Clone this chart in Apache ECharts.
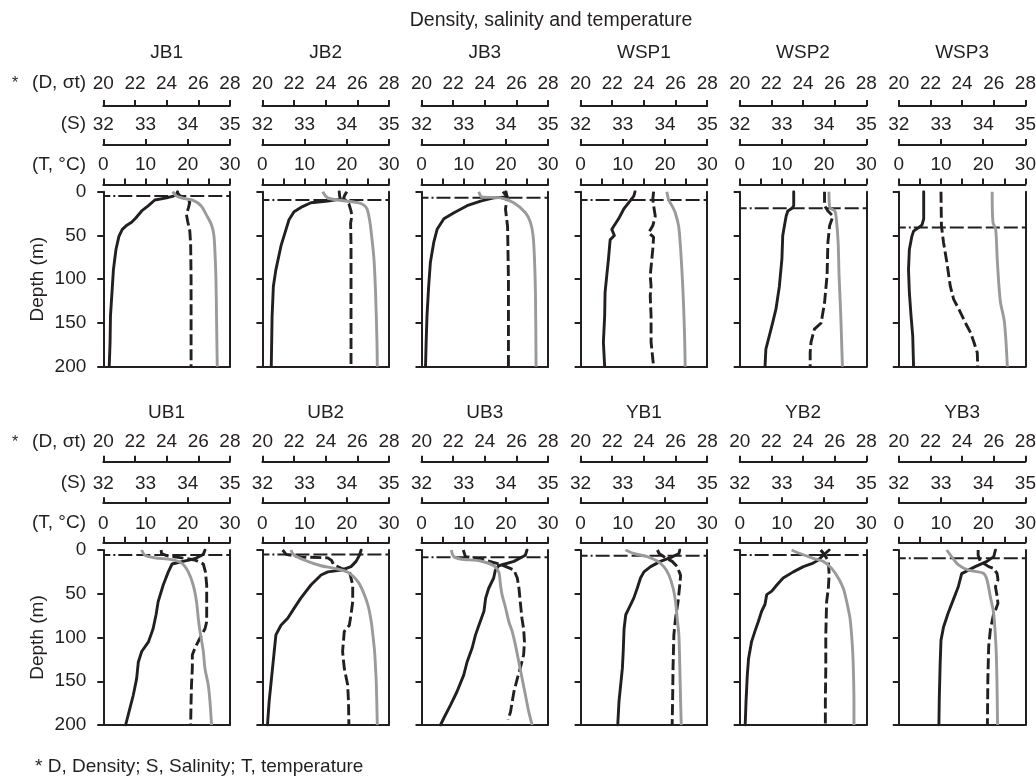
<!DOCTYPE html>
<html><head><meta charset="utf-8">
<script src="https://cdn.jsdelivr.net/npm/echarts@6.0.0/dist/echarts.min.js"></script>
<style>html,body{margin:0;padding:0;background:#fff}#c{width:1036px;height:776px}</style>
</head><body><div id="c"></div>
<script>
// ---- data ([value, depth m]) ----
const stations = ['JB1','JB2','JB3','WSP1','WSP2','WSP3','UB1','UB2','UB3','YB1','YB2','YB3'];
const mldDepth = [5, 9.5, 6.9, 9.5, 19, 41, 5.7, 5, 8.4, 6.5, 5.7, 9.5];
const dTicks = [20, 28, 2];
const sTicks = [32, 35, 1];
const tTicks = [0, 30, 5];
const depthTicks = [0, 200, 50];

const JB1_T = [[17.6,0],[17.4,3],[16.6,5],[15.0,7],[12.2,9.5],[10.7,16],[9.1,22],[7.7,30],[6.7,35],[5.4,39],[4.5,43],[3.7,51],[3.0,66],[2.4,89],[2.1,112],[1.7,142],[1.6,173],[1.4,200]];
const JB1_S = [[33.74,0],[33.8,4],[33.95,8],[34.05,12],[34.02,18],[33.97,26],[34.0,34],[34.05,45],[34.07,60],[34.08,100],[34.08,150],[34.08,200]];
const JB1_D = [[24.38,0],[24.63,5],[25.16,8],[25.68,10],[26.17,16],[26.53,27],[26.84,38],[26.99,50],[27.07,75],[27.12,100],[27.16,150],[27.2,200]];

const JB2_T = [[18.2,0],[18.3,5],[18.5,8.5],[15.5,10.7],[11.5,12.6],[9.5,17],[7.5,23],[6.3,32],[5.6,43],[4.4,62],[3.2,89],[2.6,108],[2.3,142],[2.1,200]];
const JB2_S = [[34.0,0],[33.95,4],[33.92,8],[33.98,10],[34.05,14],[34.1,22],[34.12,28],[34.09,36],[34.1,60],[34.1,200]];
const JB2_D = [[23.81,0],[24.13,7],[24.97,10],[26.03,12.6],[26.56,18],[26.77,32],[26.88,47],[27.05,77],[27.15,115],[27.24,172],[27.26,200]];

const JB3_T = [[20.0,0],[20.3,6],[17.1,7],[14.0,10.7],[10.8,16],[7.7,24],[5.3,31],[3.7,43],[2.9,58],[2.1,81],[1.7,108],[1.3,142],[1.1,172],[0.95,200]];
const JB3_S = [[33.93,0],[34.03,6],[33.99,20],[34.04,40],[34.06,100],[34.06,200]];
const JB3_D = [[23.62,0],[23.83,6],[24.99,7],[25.83,12.6],[26.57,24],[26.88,35],[27.05,50],[27.14,77],[27.2,115],[27.24,200]];

const WSP1_T = [[12.9,0],[12.6,5],[11.4,12.6],[10.2,20],[9.0,31],[7.4,43],[8.0,50],[7.0,55],[6.6,77],[6.2,96],[5.8,115],[5.7,142],[5.4,172],[5.7,200]];
const WSP1_S = [[33.73,0],[33.71,9],[33.73,16],[33.77,28],[33.71,39],[33.61,47],[33.73,52],[33.71,66],[33.65,96],[33.67,108],[33.65,119],[33.67,142],[33.67,172],[33.73,200]];
const WSP1_D = [[25.45,0],[25.56,9],[25.77,16],[25.98,24],[26.19,39],[26.29,58],[26.4,89],[26.5,127],[26.57,165],[26.61,200]];

const WSP2_T = [[12.8,0],[12.8,16],[12.4,19],[11.4,22],[11.0,28],[10.6,39],[10.2,50],[10.0,77],[9.4,108],[8.6,134],[7.8,150],[7.0,165],[6.2,180],[6.0,200]];
const WSP2_S = [[34.01,0],[34.01,16],[34.09,22],[34.21,28],[34.13,39],[34.09,58],[34.07,96],[34.01,127],[33.93,150],[33.77,157],[33.69,172],[33.67,184],[33.67,200]];
const WSP2_D = [[25.64,0],[25.69,18],[26.01,22],[26.11,32],[26.22,58],[26.28,96],[26.37,134],[26.43,165],[26.49,200]];

const WSP3_T = [[5.9,0],[5.9,31],[5.5,38],[4.7,41],[3.5,45],[3.1,51],[2.5,66],[2.3,89],[2.5,115],[2.9,142],[3.3,165],[3.5,200]];
const WSP3_S = [[33.0,0],[33.01,39],[33.06,58],[33.14,81],[33.22,108],[33.3,123],[33.42,134],[33.58,150],[33.7,161],[33.78,172],[33.86,184],[33.87,200]];
const WSP3_D = [[25.9,0],[25.95,35],[26.12,43],[26.22,77],[26.33,108],[26.43,127],[26.65,146],[26.75,165],[26.86,200]];

const UB1_T = [[24.1,0],[23.7,5],[21.7,10],[18.9,13],[16.3,16],[15.4,25],[14.2,40],[13.0,59],[12.5,74],[11.8,90],[10.7,105],[9.1,116],[8.3,128],[7.9,147],[7.1,166],[6.3,181],[5.5,196],[5.3,200]];
const UB1_S = [[33.37,0],[33.38,4],[33.5,6.5],[33.86,9],[34.17,11.4],[34.37,16],[34.42,25],[34.45,40],[34.45,59],[34.45,82],[34.41,90],[34.33,97],[34.17,112],[34.11,120],[34.11,135],[34.09,154],[34.08,173],[34.07,200]];
const UB1_D = [[22.42,0],[22.63,6],[23.26,9],[24.32,11],[24.95,15],[25.37,25],[25.68,40],[25.89,59],[26.0,78],[26.11,93],[26.32,116],[26.42,135],[26.63,154],[26.74,173],[26.84,200]];

const UB2_T = [[23.4,0],[23.0,6],[22.2,13],[21.0,19],[18.7,23],[15.5,25],[13.9,28.6],[11.5,40],[9.1,55],[7.5,66.7],[6.0,78],[4.4,86],[3.2,97],[2.8,116],[2.4,135],[2.0,154],[1.6,173],[1.2,200]];
const UB2_S = [[32.48,0],[32.56,5],[32.91,8],[33.55,9],[33.64,12],[33.69,17],[33.87,21],[34.06,24],[34.14,40],[34.14,59],[34.1,74],[34.06,86],[33.94,93],[33.9,116],[33.94,135],[34.02,154],[34.04,173],[34.05,200]];
const UB2_D = [[21.8,0],[22.01,6],[22.86,13],[23.7,18],[24.55,21],[25.4,25.5],[26.03,36],[26.35,47],[26.67,63],[26.88,82],[26.98,97],[27.09,116],[27.15,135],[27.2,154],[27.26,200]];

const UB3_T = [[25.0,0],[24.6,6],[21.9,13],[18.3,18],[17.5,23],[17.1,32],[15.9,44],[15.2,55],[14.8,70],[13.6,86],[12.8,97],[12.0,112],[10.8,128],[10.0,143],[8.4,162],[6.9,177],[5.3,192],[4.5,200]];
const UB3_S = [[32.99,0],[33.04,7.6],[33.4,10.3],[33.87,16.4],[34.19,22.9],[34.27,32],[34.31,44],[34.34,59],[34.38,78],[34.42,90],[34.44,105],[34.42,120],[34.34,135],[34.27,147],[34.19,162],[34.15,173],[34.11,185],[34.05,194]];
const UB3_D = [[21.89,0],[22.04,7.6],[22.46,10.3],[23.73,12.6],[24.57,18],[24.88,25],[24.99,40],[25.09,51],[25.31,66],[25.52,82],[25.73,93],[25.94,109],[26.15,128],[26.36,147],[26.57,166],[26.78,185],[26.99,200]];

const YB1_T = [[23.5,0],[23.3,4],[21.3,8.8],[18.9,13],[16.6,19],[15.0,25],[14.2,32],[13.4,44],[12.6,55],[11.4,67],[10.7,74],[10.3,90],[10.1,116],[9.9,135],[9.5,154],[9.1,173],[8.8,200]];
const YB1_S = [[33.82,0],[33.86,4],[34.01,8.8],[34.17,13],[34.29,19],[34.37,29],[34.35,40],[34.31,59],[34.25,78],[34.21,97],[34.19,135],[34.18,173],[34.17,200]];
const YB1_D = [[22.84,0],[23.37,4],[24.21,7.6],[24.84,12.6],[25.26,19],[25.58,28.6],[25.85,44],[26.0,59],[26.1,78],[26.21,97],[26.27,135],[26.32,173],[26.36,200]];

const YB2_T = [[21.2,0],[19.8,6],[18.6,11.4],[17.4,15],[15.1,19],[12.7,25],[10.3,32],[8.8,40],[7.6,47],[6.4,51],[6.0,62],[5.2,70],[4.4,82],[3.6,93],[2.8,105],[2.1,124],[1.8,143],[1.5,173],[1.3,200]];
const YB2_S = [[33.92,0],[34.02,6],[34.1,13],[34.12,28],[34.1,44],[34.06,59],[34.04,97],[34.04,135],[34.03,173],[34.03,200]];
const YB2_D = [[23.28,0],[23.81,4],[24.65,9.5],[25.28,13],[25.81,21],[26.23,32],[26.55,44],[26.76,59],[26.97,78],[27.07,97],[27.14,116],[27.18,135],[27.22,173],[27.22,200]];

const YB3_T = [[22.9,0],[22.5,7.6],[20.9,13],[18.1,19],[15.7,25],[14.9,27],[14.1,42],[12.9,57],[11.7,72],[10.6,88],[10.0,103],[9.8,130],[9.6,168],[9.5,200]];
const YB3_S = [[33.88,0],[33.88,6],[33.93,13],[34.13,19],[34.25,21],[34.33,27],[34.35,34],[34.29,42],[34.33,53],[34.35,61],[34.29,69],[34.25,72],[34.17,91],[34.13,110],[34.11,148],[34.1,200]];
const YB3_D = [[23.03,0],[23.34,7.6],[23.77,17],[24.4,23],[25.35,26.7],[25.57,34],[25.78,53],[25.99,72],[26.14,110],[26.2,148],[26.24,200]];

const profiles = {
  JB1:[JB1_T,JB1_S,JB1_D], JB2:[JB2_T,JB2_S,JB2_D], JB3:[JB3_T,JB3_S,JB3_D],
  WSP1:[WSP1_T,WSP1_S,WSP1_D], WSP2:[WSP2_T,WSP2_S,WSP2_D], WSP3:[WSP3_T,WSP3_S,WSP3_D],
  UB1:[UB1_T,UB1_S,UB1_D], UB2:[UB2_T,UB2_S,UB2_D], UB3:[UB3_T,UB3_S,UB3_D],
  YB1:[YB1_T,YB1_S,YB1_D], YB2:[YB2_T,YB2_S,YB2_D], YB3:[YB3_T,YB3_S,YB3_D]
};

// ---- layout / styling ----
const INK = '#231f20', GREY = '#9a9a9a';
const FONT = '"Liberation Sans", Arial, Helvetica, sans-serif';
const FS = 19;
const colLeft = c => 103.3 + c * 159.1;
const PW = 126.6, PH = 175;
const rowTop = [191.7, 550];
const offT = 7.2, offS = 46.8, offD = [85.8, 88.3];
const marT = 10, marS = [11, 10], marD = [13, 10];

function topAxis(gi, rng, offset, margin, fmt) {
  return {
    type: 'value', gridIndex: gi, position: 'top', offset,
    min: rng[0], max: rng[1], interval: rng[2],
    axisLine: {show: true, onZero: false, lineStyle: {color: INK, width: 2}},
    axisTick: {show: true, inside: false, length: 6, lineStyle: {color: INK, width: 2}},
    axisLabel: {show: true, margin, fontSize: FS, color: INK, fontFamily: FONT, formatter: fmt},
    splitLine: {show: false}
  };
}

const grids = [], xAxes = [], yAxes = [], series = [], graphics = [];
stations.forEach((st, i) => {
  const row = Math.floor(i / 6), col = i % 6;
  const left = colLeft(col), top = rowTop[row];
  grids.push({left, top, width: PW, height: PH, outerBoundsMode: 'none', containLabel: false});
  const xb = xAxes.length;
  xAxes.push(topAxis(i, tTicks, offT, marT, v => (v % 10 === 0 ? String(v) : '')));
  xAxes.push(topAxis(i, sTicks, offS, marS[row], v => String(v)));
  xAxes.push(topAxis(i, dTicks, offD[row], marD[row], v => String(v)));
  xAxes.push({type: 'value', gridIndex: i, position: 'bottom', min: 0, max: 1,
    axisLine: {show: true, onZero: false, lineStyle: {color: INK, width: 2}},
    axisTick: {show: false}, axisLabel: {show: false}, splitLine: {show: false}});
  const yb = yAxes.length;
  yAxes.push({type: 'value', gridIndex: i, position: 'left', inverse: true,
    min: depthTicks[0], max: depthTicks[1], interval: depthTicks[2],
    axisLine: {show: true, onZero: false, lineStyle: {color: INK, width: 2}},
    axisTick: {show: true, inside: false, length: 6, lineStyle: {color: INK, width: 2}},
    axisLabel: {show: col === 0, margin: 17, fontSize: FS, color: INK, fontFamily: FONT},
    splitLine: {show: false}});
  yAxes.push({type: 'value', gridIndex: i, position: 'right', inverse: true,
    min: depthTicks[0], max: depthTicks[1],
    axisLine: {show: true, onZero: false, lineStyle: {color: INK, width: 2}},
    axisTick: {show: false}, axisLabel: {show: false}, splitLine: {show: false}});

  const [T, S, D] = profiles[st];
  const common = {type: 'line', symbol: 'none', silent: true, yAxisIndex: yb, animation: false};
  series.push(Object.assign({}, common, {name: st + ' MLD', xAxisIndex: xb,
    data: [[tTicks[0], mldDepth[i]], [tTicks[1], mldDepth[i]]],
    lineStyle: {color: INK, width: 2, type: [7,3,2,3,14,4,14,4,14,4,14,4,14,4,14,4,14,4]}}));
  series.push(Object.assign({}, common, {name: st + ' T', xAxisIndex: xb, data: T,
    lineStyle: {color: INK, width: 2.9, join: 'round', cap: 'round'}}));
  series.push(Object.assign({}, common, {name: st + ' S', xAxisIndex: xb + 1, data: S,
    lineStyle: {color: INK, width: 2.9, type: [11, 4]}}));
  series.push(Object.assign({}, common, {name: st + ' D', xAxisIndex: xb + 2, data: D, smooth: 0.3,
    lineStyle: {color: GREY, width: 2.9}}));

  graphics.push({type: 'text', x: left + PW / 2, y: row === 0 ? 53 : 413,
    style: {text: st, fill: INK, font: FS + 'px ' + FONT, textAlign: 'center', textVerticalAlign: 'middle'}});
});

// row labels + depth labels
[0, 1].forEach(row => {
  const t = rowTop[row];
  const dy = t - offD[row] - marD[row] - 10;
  const sy = t - offS - marS[row] - 10;
  const ty = t - offT - marT - 10;
  graphics.push({type: 'text', x: 12, y: dy + 1, style: {text: '*', fill: INK, font: '16px ' + FONT, textAlign: 'left', textVerticalAlign: 'middle'}});
  graphics.push({type: 'text', x: 86, y: dy, style: {text: '(D, \u03C3t)', fill: INK, font: FS + 'px ' + FONT, textAlign: 'right', textVerticalAlign: 'middle'}});
  graphics.push({type: 'text', x: 86, y: sy, style: {text: '(S)', fill: INK, font: FS + 'px ' + FONT, textAlign: 'right', textVerticalAlign: 'middle'}});
  graphics.push({type: 'text', x: 86, y: ty, style: {text: '(T, \u00B0C)', fill: INK, font: FS + 'px ' + FONT, textAlign: 'right', textVerticalAlign: 'middle'}});
  graphics.push({type: 'text', x: 38, y: t + PH / 2, rotation: Math.PI / 2,
    style: {text: 'Depth (m)', fill: INK, font: FS + 'px ' + FONT, textAlign: 'center', textVerticalAlign: 'middle'}});
});
graphics.push({type: 'text', x: 551, y: 21, style: {text: 'Density, salinity and temperature', fill: INK, font: '19.5px ' + FONT, textAlign: 'center', textVerticalAlign: 'middle'}});
graphics.push({type: 'text', x: 35, y: 767, style: {text: '* D, Density; S, Salinity; T, temperature', fill: INK, font: FS + 'px ' + FONT, textAlign: 'left', textVerticalAlign: 'middle'}});

const chart = echarts.init(document.getElementById('c'), null, {renderer: 'canvas'});
chart.setOption({
  animation: false,
  backgroundColor: '#ffffff',
  grid: grids, xAxis: xAxes, yAxis: yAxes, series, graphic: graphics
});
</script></body></html>
